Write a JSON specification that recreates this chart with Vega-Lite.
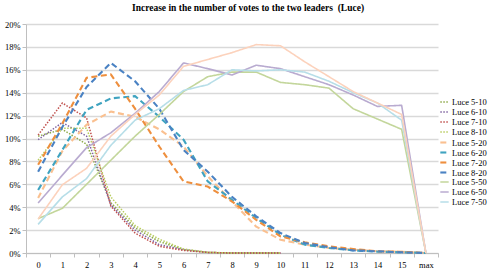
{
  "$schema": "https://vega.github.io/schema/vega-lite/v6.json",
  "width": 412,
  "height": 229,
  "autosize": {"type": "none"},
  "padding": {"left": 26, "top": 24, "right": 60, "bottom": 19},
  "background": "white",
  "title": {"text": "Increase in the number of votes to the two leaders\u00a0 (Luce)", "font": "Liberation Serif", "fontSize": 9.5, "fontWeight": "bold", "color": "#000000", "anchor": "middle", "dx": 16, "offset": 8},
  "config": {"view": {"stroke": null}},
  "datasets": {
    "d": [
      {"s":"Luce 5-10","k":"0","v":0.102},{"s":"Luce 5-10","k":"1","v":0.108},{"s":"Luce 5-10","k":"2","v":0.095},{"s":"Luce 5-10","k":"3","v":0.044},{"s":"Luce 5-10","k":"4","v":0.022},{"s":"Luce 5-10","k":"5","v":0.010},{"s":"Luce 5-10","k":"6","v":0.003},{"s":"Luce 5-10","k":"7","v":0.0005},{"s":"Luce 5-10","k":"8","v":0},{"s":"Luce 5-10","k":"9","v":0},{"s":"Luce 5-10","k":"10","v":0},
      {"s":"Luce 6-10","k":"0","v":0.099},{"s":"Luce 6-10","k":"1","v":0.114},{"s":"Luce 6-10","k":"2","v":0.102},{"s":"Luce 6-10","k":"3","v":0.042},{"s":"Luce 6-10","k":"4","v":0.020},{"s":"Luce 6-10","k":"5","v":0.0073},{"s":"Luce 6-10","k":"6","v":0.0029},{"s":"Luce 6-10","k":"7","v":0.0005},{"s":"Luce 6-10","k":"8","v":0},{"s":"Luce 6-10","k":"9","v":0},{"s":"Luce 6-10","k":"10","v":0},
      {"s":"Luce 7-10","k":"0","v":0.103},{"s":"Luce 7-10","k":"1","v":0.131},{"s":"Luce 7-10","k":"2","v":0.118},{"s":"Luce 7-10","k":"3","v":0.041},{"s":"Luce 7-10","k":"4","v":0.0174},{"s":"Luce 7-10","k":"5","v":0.0058},{"s":"Luce 7-10","k":"6","v":0.0023},{"s":"Luce 7-10","k":"7","v":0.0005},{"s":"Luce 7-10","k":"8","v":0},{"s":"Luce 7-10","k":"9","v":0},{"s":"Luce 7-10","k":"10","v":0},
      {"s":"Luce 8-10","k":"0","v":0.081},{"s":"Luce 8-10","k":"1","v":0.109},{"s":"Luce 8-10","k":"2","v":0.109},{"s":"Luce 8-10","k":"3","v":0.049},{"s":"Luce 8-10","k":"4","v":0.024},{"s":"Luce 8-10","k":"5","v":0.012},{"s":"Luce 8-10","k":"6","v":0.0035},{"s":"Luce 8-10","k":"7","v":0.0006},{"s":"Luce 8-10","k":"8","v":0},{"s":"Luce 8-10","k":"9","v":0},{"s":"Luce 8-10","k":"10","v":0},
      {"s":"Luce 5-20","k":"0","v":0.048},{"s":"Luce 5-20","k":"1","v":0.089},{"s":"Luce 5-20","k":"2","v":0.112},{"s":"Luce 5-20","k":"3","v":0.1235},{"s":"Luce 5-20","k":"4","v":0.119},{"s":"Luce 5-20","k":"5","v":0.108},{"s":"Luce 5-20","k":"6","v":0.093},{"s":"Luce 5-20","k":"7","v":0.067},{"s":"Luce 5-20","k":"8","v":0.045},{"s":"Luce 5-20","k":"9","v":0.023},{"s":"Luce 5-20","k":"10","v":0.0116},{"s":"Luce 5-20","k":"11","v":0.0073},{"s":"Luce 5-20","k":"12","v":0.0044},{"s":"Luce 5-20","k":"13","v":0.0029},{"s":"Luce 5-20","k":"14","v":0.0015},{"s":"Luce 5-20","k":"15","v":0.001},{"s":"Luce 5-20","k":"max","v":0},
      {"s":"Luce 6-20","k":"0","v":0.055},{"s":"Luce 6-20","k":"1","v":0.090},{"s":"Luce 6-20","k":"2","v":0.125},{"s":"Luce 6-20","k":"3","v":0.135},{"s":"Luce 6-20","k":"4","v":0.137},{"s":"Luce 6-20","k":"5","v":0.119},{"s":"Luce 6-20","k":"6","v":0.099},{"s":"Luce 6-20","k":"7","v":0.0625},{"s":"Luce 6-20","k":"8","v":0.0465},{"s":"Luce 6-20","k":"9","v":0.0305},{"s":"Luce 6-20","k":"10","v":0.016},{"s":"Luce 6-20","k":"11","v":0.0073},{"s":"Luce 6-20","k":"12","v":0.0044},{"s":"Luce 6-20","k":"13","v":0.0023},{"s":"Luce 6-20","k":"14","v":0.0012},{"s":"Luce 6-20","k":"15","v":0.0006},{"s":"Luce 6-20","k":"max","v":0},
      {"s":"Luce 7-20","k":"0","v":0.077},{"s":"Luce 7-20","k":"1","v":0.113},{"s":"Luce 7-20","k":"2","v":0.153},{"s":"Luce 7-20","k":"3","v":0.156},{"s":"Luce 7-20","k":"4","v":0.126},{"s":"Luce 7-20","k":"5","v":0.093},{"s":"Luce 7-20","k":"6","v":0.0625},{"s":"Luce 7-20","k":"7","v":0.058},{"s":"Luce 7-20","k":"8","v":0.045},{"s":"Luce 7-20","k":"9","v":0.029},{"s":"Luce 7-20","k":"10","v":0.0145},{"s":"Luce 7-20","k":"11","v":0.0093},{"s":"Luce 7-20","k":"12","v":0.0058},{"s":"Luce 7-20","k":"13","v":0.0035},{"s":"Luce 7-20","k":"14","v":0.0015},{"s":"Luce 7-20","k":"15","v":0.001},{"s":"Luce 7-20","k":"max","v":0},
      {"s":"Luce 8-20","k":"0","v":0.071},{"s":"Luce 8-20","k":"1","v":0.110},{"s":"Luce 8-20","k":"2","v":0.145},{"s":"Luce 8-20","k":"3","v":0.166},{"s":"Luce 8-20","k":"4","v":0.150},{"s":"Luce 8-20","k":"5","v":0.126},{"s":"Luce 8-20","k":"6","v":0.090},{"s":"Luce 8-20","k":"7","v":0.071},{"s":"Luce 8-20","k":"8","v":0.049},{"s":"Luce 8-20","k":"9","v":0.032},{"s":"Luce 8-20","k":"10","v":0.0174},{"s":"Luce 8-20","k":"11","v":0.0087},{"s":"Luce 8-20","k":"12","v":0.005},{"s":"Luce 8-20","k":"13","v":0.0023},{"s":"Luce 8-20","k":"14","v":0.0015},{"s":"Luce 8-20","k":"15","v":0.0006},{"s":"Luce 8-20","k":"max","v":0},
      {"s":"Luce 5-50","k":"0","v":0.030},{"s":"Luce 5-50","k":"1","v":0.039},{"s":"Luce 5-50","k":"2","v":0.060},{"s":"Luce 5-50","k":"3","v":0.081},{"s":"Luce 5-50","k":"4","v":0.102},{"s":"Luce 5-50","k":"5","v":0.121},{"s":"Luce 5-50","k":"6","v":0.141},{"s":"Luce 5-50","k":"7","v":0.154},{"s":"Luce 5-50","k":"8","v":0.158},{"s":"Luce 5-50","k":"9","v":0.158},{"s":"Luce 5-50","k":"10","v":0.149},{"s":"Luce 5-50","k":"11","v":0.147},{"s":"Luce 5-50","k":"12","v":0.144},{"s":"Luce 5-50","k":"13","v":0.126},{"s":"Luce 5-50","k":"14","v":0.117},{"s":"Luce 5-50","k":"15","v":0.108},{"s":"Luce 5-50","k":"max","v":0},
      {"s":"Luce 6-50","k":"0","v":0.0436},{"s":"Luce 6-50","k":"1","v":0.068},{"s":"Luce 6-50","k":"2","v":0.092},{"s":"Luce 6-50","k":"3","v":0.105},{"s":"Luce 6-50","k":"4","v":0.122},{"s":"Luce 6-50","k":"5","v":0.141},{"s":"Luce 6-50","k":"6","v":0.166},{"s":"Luce 6-50","k":"7","v":0.161},{"s":"Luce 6-50","k":"8","v":0.1555},{"s":"Luce 6-50","k":"9","v":0.164},{"s":"Luce 6-50","k":"10","v":0.161},{"s":"Luce 6-50","k":"11","v":0.154},{"s":"Luce 6-50","k":"12","v":0.147},{"s":"Luce 6-50","k":"13","v":0.138},{"s":"Luce 6-50","k":"14","v":0.128},{"s":"Luce 6-50","k":"15","v":0.129},{"s":"Luce 6-50","k":"max","v":0},
      {"s":"Luce 7-50","k":"0","v":0.025},{"s":"Luce 7-50","k":"1","v":0.049},{"s":"Luce 7-50","k":"2","v":0.065},{"s":"Luce 7-50","k":"3","v":0.094},{"s":"Luce 7-50","k":"4","v":0.116},{"s":"Luce 7-50","k":"5","v":0.126},{"s":"Luce 7-50","k":"6","v":0.142},{"s":"Luce 7-50","k":"7","v":0.147},{"s":"Luce 7-50","k":"8","v":0.160},{"s":"Luce 7-50","k":"9","v":0.159},{"s":"Luce 7-50","k":"10","v":0.160},{"s":"Luce 7-50","k":"11","v":0.158},{"s":"Luce 7-50","k":"12","v":0.150},{"s":"Luce 7-50","k":"13","v":0.140},{"s":"Luce 7-50","k":"14","v":0.131},{"s":"Luce 7-50","k":"15","v":0.116},{"s":"Luce 7-50","k":"max","v":0},
      {"s":"Luce 8-50","k":"0","v":0.0297},{"s":"Luce 8-50","k":"1","v":0.0596},{"s":"Luce 8-50","k":"2","v":0.074},{"s":"Luce 8-50","k":"3","v":0.102},{"s":"Luce 8-50","k":"4","v":0.121},{"s":"Luce 8-50","k":"5","v":0.138},{"s":"Luce 8-50","k":"6","v":0.163},{"s":"Luce 8-50","k":"7","v":0.169},{"s":"Luce 8-50","k":"8","v":0.175},{"s":"Luce 8-50","k":"9","v":0.182},{"s":"Luce 8-50","k":"10","v":0.181},{"s":"Luce 8-50","k":"11","v":0.167},{"s":"Luce 8-50","k":"12","v":0.154},{"s":"Luce 8-50","k":"13","v":0.141},{"s":"Luce 8-50","k":"14","v":0.131},{"s":"Luce 8-50","k":"15","v":0.121},{"s":"Luce 8-50","k":"max","v":0}
    ]
  },
  "data": {"name": "d"},
  "mark": {"type": "line", "strokeCap": "butt", "strokeJoin": "round"},
  "encoding": {
    "x": {
      "field": "k", "type": "ordinal",
      "sort": ["0","1","2","3","4","5","6","7","8","9","10","11","12","13","14","15","max"],
      "scale": {"type": "band", "domain": ["0","1","2","3","4","5","6","7","8","9","10","11","12","13","14","15","max"], "paddingInner": 0, "paddingOuter": 0},
      "bandPosition": 0.5,
      "axis": {"title": null, "labelAngle": 0, "labelFont": "Liberation Serif", "labelFontSize": 8.5, "labelColor": "#000000", "domainColor": "#BFBFBF", "tickColor": "#BFBFBF", "tickSize": 4, "tickBand": "extent", "grid": false, "labelPadding": 3}
    },
    "y": {
      "field": "v", "type": "quantitative",
      "scale": {"domain": [0, 0.2], "nice": false},
      "axis": {"title": null, "format": ".0%", "values": [0,0.02,0.04,0.06,0.08,0.1,0.12,0.14,0.16,0.18,0.2], "labelFont": "Liberation Serif", "labelFontSize": 8.5, "labelColor": "#000000", "domainColor": "#BFBFBF", "tickColor": "#BFBFBF", "tickSize": 4, "gridColor": "#D9D9D9", "gridWidth": 1.5, "labelPadding": 2}
    },
    "color": {
      "field": "s", "type": "nominal",
      "scale": {
        "domain": ["Luce 5-10","Luce 6-10","Luce 7-10","Luce 8-10","Luce 5-20","Luce 6-20","Luce 7-20","Luce 8-20","Luce 5-50","Luce 6-50","Luce 7-50","Luce 8-50"],
        "range": ["#8EAA4A","#8064A2","#C0504D","#B9CD5F","#FAC090","#3FA3C0","#EE8F3E","#4A82C3","#C3D69B","#B9ABD0","#B7DEE8","#FCD2BC"]
      },
      "legend": {"title": null, "orient": "none", "legendX": 413, "legendY": 73, "values": ["Luce 5-10","Luce 6-10","Luce 7-10","Luce 8-10","Luce 5-20","Luce 6-20","Luce 7-20","Luce 8-20","Luce 5-50","Luce 6-50","Luce 7-50"], "symbolType": "stroke", "symbolSize": 70, "labelFont": "Liberation Serif", "labelFontSize": 8.5, "labelColor": "#000000", "rowPadding": 0, "labelOffset": 2}
    },
    "strokeDash": {
      "field": "s", "type": "nominal",
      "scale": {
        "domain": ["Luce 5-10","Luce 6-10","Luce 7-10","Luce 8-10","Luce 5-20","Luce 6-20","Luce 7-20","Luce 8-20","Luce 5-50","Luce 6-50","Luce 7-50","Luce 8-50"],
        "range": [[1.5,1.5],[1.5,1.5],[1.5,1.5],[1.5,1.5],[6,3.5],[6,3.5],[6,3.5],[6,3.5],[1,0],[1,0],[1,0],[1,0]]
      },
      "legend": {"title": null, "orient": "none", "legendX": 413, "legendY": 73, "values": ["Luce 5-10","Luce 6-10","Luce 7-10","Luce 8-10","Luce 5-20","Luce 6-20","Luce 7-20","Luce 8-20","Luce 5-50","Luce 6-50","Luce 7-50"], "symbolType": "stroke", "symbolSize": 70, "labelFont": "Liberation Serif", "labelFontSize": 8.5, "labelColor": "#000000", "rowPadding": 0, "labelOffset": 2}
    },
    "strokeWidth": {
      "field": "s", "type": "nominal",
      "scale": {
        "type": "ordinal",
        "domain": ["Luce 5-10","Luce 6-10","Luce 7-10","Luce 8-10","Luce 5-20","Luce 6-20","Luce 7-20","Luce 8-20","Luce 5-50","Luce 6-50","Luce 7-50","Luce 8-50"],
        "range": [1.5,1.5,1.5,1.5,2.1,2.1,2.1,2.1,1.6,1.6,1.6,1.6]
      },
      "legend": null
    }
  }
}
